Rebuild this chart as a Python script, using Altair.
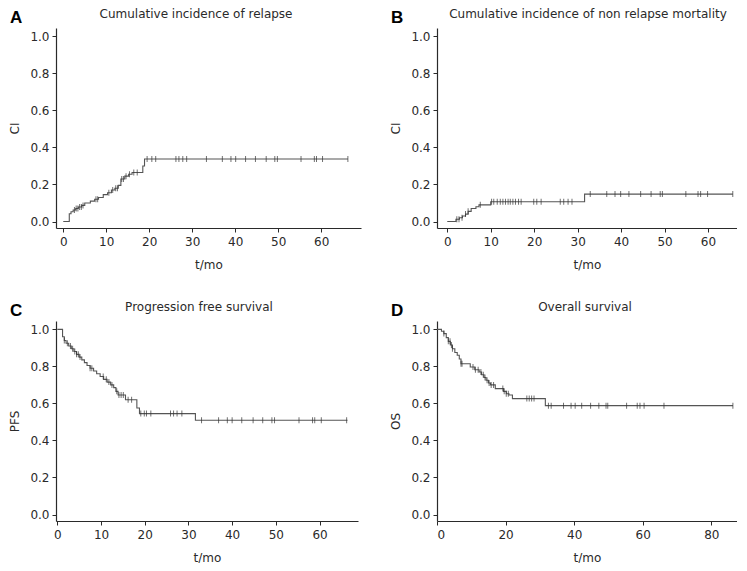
import altair as alt
import pandas as pd
import numpy as np

# ---------------- data ----------------
A_t = [0, 1.4, 1.8, 2.3, 2.9, 3.5, 4.3, 5.0, 6.3, 7.3, 8.2, 9.3, 10.3, 11.2, 12.0, 12.8, 13.4, 14.3, 15.2, 16.0, 18.5, 18.9]
A_v = [0.0, 0.042, 0.053, 0.062, 0.07, 0.078, 0.087, 0.10, 0.11, 0.12, 0.13, 0.145, 0.155, 0.17, 0.18, 0.195, 0.23, 0.245, 0.255, 0.265, 0.30, 0.338]
A_end = 66.2
A_cens = [2.6, 3.0, 3.4, 3.8, 4.2, 4.6, 7.6, 8.0, 10.6, 11.5, 12.2, 12.6, 13.6, 14.0, 14.6, 15.4, 16.4, 17.2,
          19.5, 20.6, 21.5, 26.2, 26.9, 27.8, 28.7, 33.3, 37.0, 39.0, 40.1, 42.4, 44.7, 47.2, 49.2, 49.8,
          55.3, 58.4, 58.9, 60.3, 66.2]

B_t = [0, 2.0, 2.8, 3.5, 4.2, 4.8, 5.5, 6.6, 7.3, 10.0, 31.6]
B_v = [0.0, 0.012, 0.02, 0.03, 0.04, 0.055, 0.07, 0.08, 0.09, 0.107, 0.148]
B_end = 65.7
B_cens = [2.2, 2.7, 3.4, 4.2, 4.8, 7.6, 10.2, 10.7, 11.5, 12.2, 12.8, 13.4, 14.0, 14.5, 15.1, 15.7, 16.4, 17.0,
          19.9, 20.6, 21.6, 26.0, 26.8, 27.8, 28.7, 32.9, 36.7, 38.6, 39.9, 41.8, 44.5, 46.9, 49.0, 49.5,
          54.9, 57.7, 58.3, 59.9, 65.7]

C_t = [0, 1.2, 1.6, 2.0, 2.6, 3.2, 3.8, 4.4, 5.0, 5.6, 6.2, 6.8, 7.5, 8.3, 9.0, 9.8, 10.6, 11.4, 12.2, 12.9,
       13.4, 13.9, 15.6, 18.2, 18.8, 31.6]
C_v = [1.0, 0.96, 0.94, 0.925, 0.91, 0.895, 0.88, 0.865, 0.85, 0.835, 0.82, 0.805, 0.79, 0.775, 0.76, 0.745,
       0.73, 0.715, 0.70, 0.685, 0.665, 0.645, 0.62, 0.575, 0.545, 0.509]
C_end = 66.4
C_cens = [1.6, 2.3, 3.0, 3.5, 4.0, 4.4, 4.8, 5.2, 7.5, 7.9, 10.5, 11.2, 11.8, 12.5, 13.6, 14.1, 14.6, 15.1,
          16.2, 17.0, 19.1, 19.9, 20.4, 21.4, 25.9, 26.6, 27.4, 28.5, 33.0, 36.9, 38.9, 40.0, 42.2, 44.8,
          47.0, 49.1, 49.7, 55.3, 58.4, 58.9, 60.4, 66.2]

D_t = [0, 1.3, 2.0, 2.7, 3.3, 3.9, 4.5, 5.2, 5.9, 6.5, 7.0, 9.7, 11.0, 12.3, 13.0, 13.7, 14.3, 15.0, 15.6,
       17.0, 19.4, 20.2, 21.0, 22.0, 31.6]
D_v = [1.0, 0.99, 0.977, 0.955, 0.935, 0.915, 0.895, 0.875, 0.86, 0.84, 0.814, 0.797, 0.782, 0.77, 0.755,
       0.74, 0.725, 0.71, 0.70, 0.68, 0.665, 0.652, 0.645, 0.626, 0.588]
D_end = 86.3
D_cens = [2.0, 3.3, 3.8, 4.2, 4.5, 7.0, 7.3, 10.5, 11.2, 12.0, 12.8, 13.5, 14.0, 14.6, 15.2, 15.8, 16.5,
          19.2, 19.6, 20.2, 20.8, 26.2, 26.9, 27.6, 28.3, 32.5, 33.3, 36.9, 39.1, 40.3, 42.2, 44.8, 47.2,
          49.3, 49.8, 55.3, 58.4, 59.2, 60.4, 66.2, 86.3]

titles = ["Cumulative incidence of relapse", "Cumulative incidence of non relapse mortality",
          "Progression free survival", "Overall survival"]
letters = ["A", "B", "C", "D"]
y_titles = ["CI", "CI", "PFS", "OS"]
x_title = "t/mo"
y_ticks = [0.0, 0.2, 0.4, 0.6, 0.8, 1.0]
x_ticks_60 = [0, 10, 20, 30, 40, 50, 60]
x_ticks_80 = [0, 20, 40, 60, 80]

INK = "#2a2a2a"
LINE = "#555555"
CENS = "#333333"


def panel(st, sv, send, cens, xdom, xticks, ydom, width, height, title, ytitle, letter, title_x):
    steps = pd.DataFrame({"t": st + [send], "v": sv + [sv[-1]]})
    st_arr = np.array(st)
    cv = [sv[int(np.searchsorted(st_arr, c, side="right")) - 1] for c in cens]
    cdf = pd.DataFrame({"t": cens, "v": cv})
    xs = alt.Scale(domain=xdom, nice=False, zero=False)
    ys = alt.Scale(domain=ydom, nice=False, zero=False)
    xe = alt.X("t:Q", scale=xs, axis=alt.Axis(values=xticks, format="d", title=x_title, labelOverlap=False))
    ye = alt.Y("v:Q", scale=ys, axis=alt.Axis(values=y_ticks, format=".1f", title=ytitle, labelOverlap=False))
    line = alt.Chart(steps).mark_line(interpolate="step-after", color=LINE, strokeWidth=1.1).encode(x=xe, y=ye)
    ticks = alt.Chart(cdf).mark_tick(orient="vertical", size=6, thickness=1, color=CENS).encode(x=xe, y=ye)
    lab = alt.Chart(pd.DataFrame({"l": [letter]})).mark_text(
        font="Liberation Sans", fontWeight="bold", fontSize=17, align="left", baseline="alphabetic", color="#000"
    ).encode(text="l:N", x=alt.value(-46), y=alt.value(-5))
    ttl = alt.Chart(pd.DataFrame({"l": [title]})).mark_text(
        font="DejaVu Sans", fontSize=12, align="center", baseline="alphabetic", color=INK
    ).encode(text="l:N", x=alt.value(title_x), y=alt.value(-10))
    return alt.layer(line, ticks, lab, ttl).properties(width=width, height=height)


YD = [-0.035, 1.045]
pA = panel(A_t, A_v, A_end, A_cens, [-1.69, 69.25], x_ticks_60, YD, 305, 200, titles[0], y_titles[0], letters[0], 140)
pB = panel(B_t, B_v, B_end, B_cens, [-2.36, 66.67], x_ticks_60, YD, 300, 200, titles[1], y_titles[1], letters[1], 151)
pC = panel(C_t, C_v, C_end, C_cens, [-0.3, 68.8], x_ticks_60, YD, 302, 200, titles[2], y_titles[2], letters[2], 143)
pD = panel(D_t, D_v, D_end, D_cens, [0, 87.5], x_ticks_80, YD, 300, 200, titles[3], y_titles[3], letters[3], 148)

chart = alt.concat(pA, pB, pC, pD, columns=2).properties(
    spacing={"row": 93, "column": 76}, bounds="flush", align="each", padding=0
).configure_axis(
    grid=False, domainColor=INK, tickColor=INK, tickSize=4, domainWidth=1.2,
    labelFont="DejaVu Sans", labelFontSize=12, labelColor=INK,
    titleFont="DejaVu Sans", titleFontSize=12, titleFontWeight="normal", titleColor=INK,
).configure_axisX(titlePadding=12, labelPadding=4).configure_axisY(titlePadding=8, labelPadding=3
).configure_view(strokeOpacity=0)

chart.save("out.html", embed_options={"renderer": "svg", "actions": False})
